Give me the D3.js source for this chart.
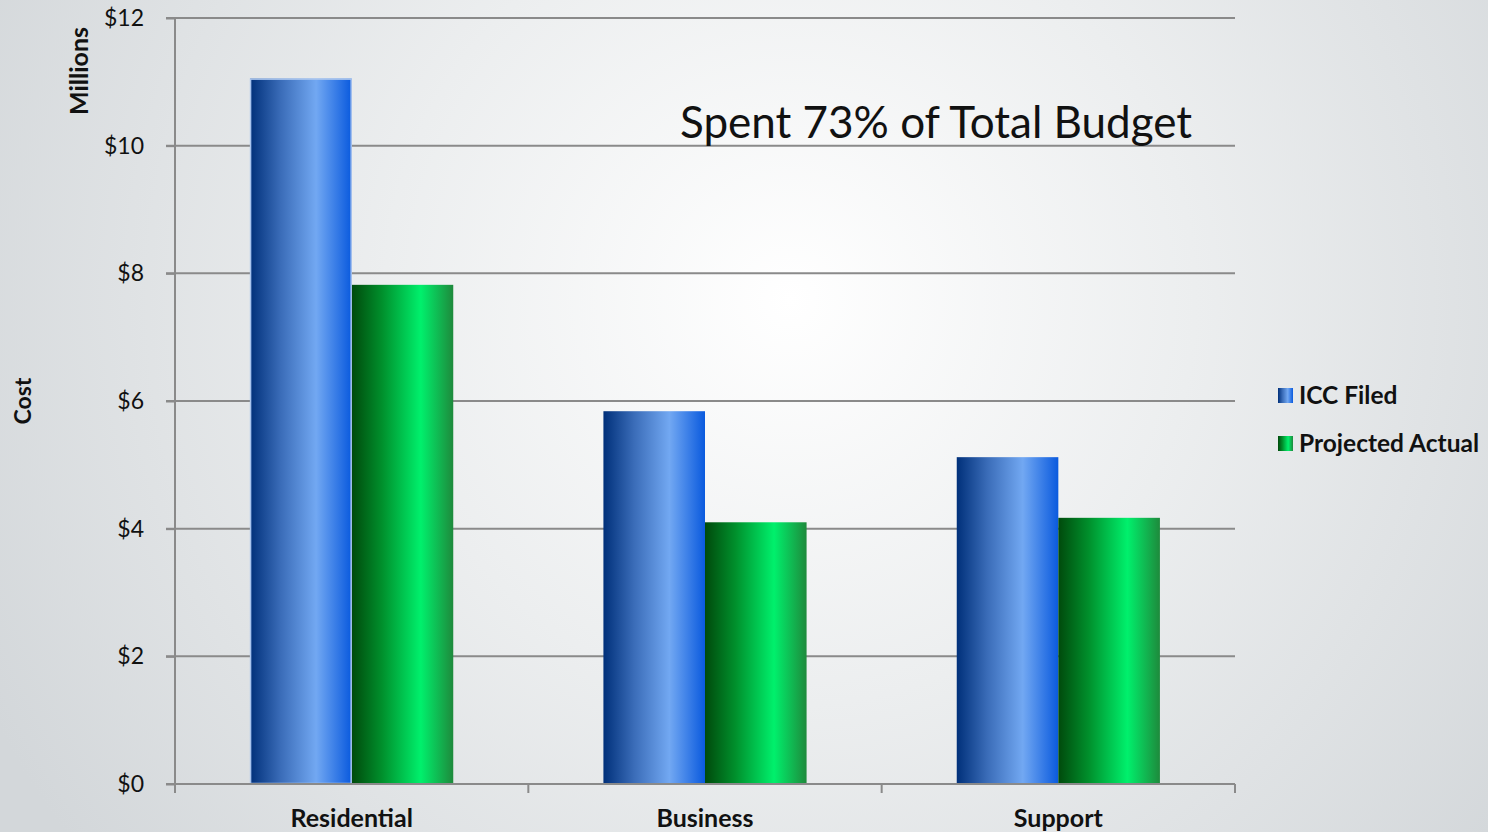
<!DOCTYPE html>
<html><head><meta charset="utf-8">
<script src="https://cdn.jsdelivr.net/npm/d3@7"></script>
<style>html,body{margin:0;padding:0;overflow:hidden}svg{display:block}</style>
</head><body>
<svg id="c" width="1488" height="832"></svg>
<script>
const categories = ["Residential", "Business", "Support"];
const seriesNames = ["ICC Filed", "Projected Actual"];
const iccFiled = [11.05, 5.84, 5.12];
const projectedActual = [7.82, 4.10, 4.17];
const yTicks = [0, 2, 4, 6, 8, 10, 12];

const svg = d3.select("#c");
const W = 1488, H = 832;
const font = "Lato, 'Open Sans', sans-serif";
const defs = svg.append("defs");

const bg = defs.append("radialGradient").attr("id","bg").attr("gradientUnits","userSpaceOnUse")
  .attr("cx",790).attr("cy",300).attr("r",900);
bg.append("stop").attr("offset","0").attr("stop-color","#ffffff");
bg.append("stop").attr("offset","0.45").attr("stop-color","#eceeef");
bg.append("stop").attr("offset","1").attr("stop-color","#d3d7da");
svg.append("rect").attr("width",W).attr("height",H).attr("fill","url(#bg)");

function grad(id, stops){
  const g = defs.append("linearGradient").attr("id",id).attr("x1","0").attr("x2","1").attr("y1","0").attr("y2","0");
  stops.forEach(s=>g.append("stop").attr("offset",s[0]).attr("stop-color",s[1]));
}
grad("gBlue", [[0,"#00307a"],[0.3,"#3a6cb8"],[0.65,"#72a8f2"],[1,"#0a5ade"]]);
grad("gGreen", [[0,"#004a0c"],[0.3,"#00902c"],[0.68,"#00f06c"],[1,"#1e8a3c"]]);
const fills = ["url(#gBlue)","url(#gGreen)"];

const x0 = d3.scaleBand().domain(categories).range([175,1235]).paddingInner(0.425).paddingOuter(0.2125);
const x1 = d3.scaleBand().domain(seriesNames).range([0,x0.bandwidth()]).padding(0);
const y = d3.scaleLinear().domain([0,12]).range([784,18]);

// gridlines
svg.append("g").selectAll("line").data(yTicks.filter(d=>d>0)).join("line")
  .attr("x1",166).attr("x2",1235).attr("y1",d=>y(d)).attr("y2",d=>y(d))
  .attr("stroke","#8a8a8a").attr("stroke-width",2);

// y axis
const ya = svg.append("g").attr("transform","translate(175,0)")
  .call(d3.axisLeft(y).tickValues(yTicks).tickSize(9).tickPadding(22).tickFormat(d=>"$"+d));
ya.select(".domain").attr("stroke","#8a8a8a").attr("stroke-width",2).attr("d","M0,18V784");
ya.selectAll(".tick line").attr("stroke","#8a8a8a").attr("stroke-width",2);
ya.selectAll(".tick text").attr("font-family",font).attr("font-size",23).attr("fill","#111").attr("dy","0.32em");

// bars
const data = categories.map((c,i)=>({cat:c, vals:[iccFiled[i], projectedActual[i]]}));
const groups = svg.append("g").selectAll("g").data(data).join("g")
  .attr("transform",d=>`translate(${x0(d.cat)},0)`);
groups.selectAll("rect").data(d=>d.vals.map((v,j)=>({s:seriesNames[j], v, j}))).join("rect")
  .attr("x",d=>x1(d.s)).attr("width",x1.bandwidth())
  .attr("y",d=>y(d.v)).attr("height",d=>y(0)-y(d.v))
  .attr("fill",d=>fills[d.j]);
// light edge on first bar (Residential ICC)
groups.filter((d,i)=>i===0).append("rect")
  .attr("x",x1(seriesNames[0])+0.5).attr("width",x1.bandwidth()-1)
  .attr("y",d=>y(d.vals[0])+0.5).attr("height",d=>y(0)-y(d.vals[0])-1)
  .attr("fill","none").attr("stroke","#a8c4ee").attr("stroke-width",1.5);

// x axis
const xa = svg.append("g").attr("transform","translate(0,784)");
xa.append("line").attr("x1",166).attr("x2",1235).attr("stroke","#8a8a8a").attr("stroke-width",2);
const xTickPos = [0,1,2,3].map(i=>175 + i*x0.step());
xa.selectAll("line.t").data(xTickPos).join("line").attr("class","t")
  .attr("x1",d=>d).attr("x2",d=>d).attr("y1",0).attr("y2",9)
  .attr("stroke","#8a8a8a").attr("stroke-width",2);
xa.selectAll("text").data(categories).join("text")
  .attr("x",d=>x0(d)+x0.bandwidth()/2).attr("y",43)
  .attr("text-anchor","middle").attr("font-family",font).attr("font-weight","bold")
  .attr("font-size",25).attr("fill","#111").text(d=>d);

// axis titles
svg.append("text").attr("transform","translate(88,71) rotate(-90)").attr("text-anchor","middle")
  .attr("font-family",font).attr("font-weight","bold").attr("font-size",25).attr("fill","#111").text("Millions");
svg.append("text").attr("transform","translate(31,401) rotate(-90)").attr("text-anchor","middle")
  .attr("font-family",font).attr("font-weight","bold").attr("font-size",23).attr("fill","#111").text("Cost");

// annotation
svg.append("text").attr("x",680).attr("y",138).attr("font-family",font)
  .attr("font-size",44).attr("fill","#111").text("Spent 73% of Total Budget");

// legend
const lg = svg.append("g").selectAll("g").data(seriesNames).join("g")
  .attr("transform",(d,i)=>`translate(1278,${388+i*48})`);
lg.append("rect").attr("width",15).attr("height",15).attr("fill",(d,i)=>fills[i]);
lg.append("text").attr("x",21).attr("y",16).attr("font-family",font).attr("font-weight","bold")
  .attr("font-size",24.5).attr("fill","#111").text(d=>d);
</script>
</body></html>
